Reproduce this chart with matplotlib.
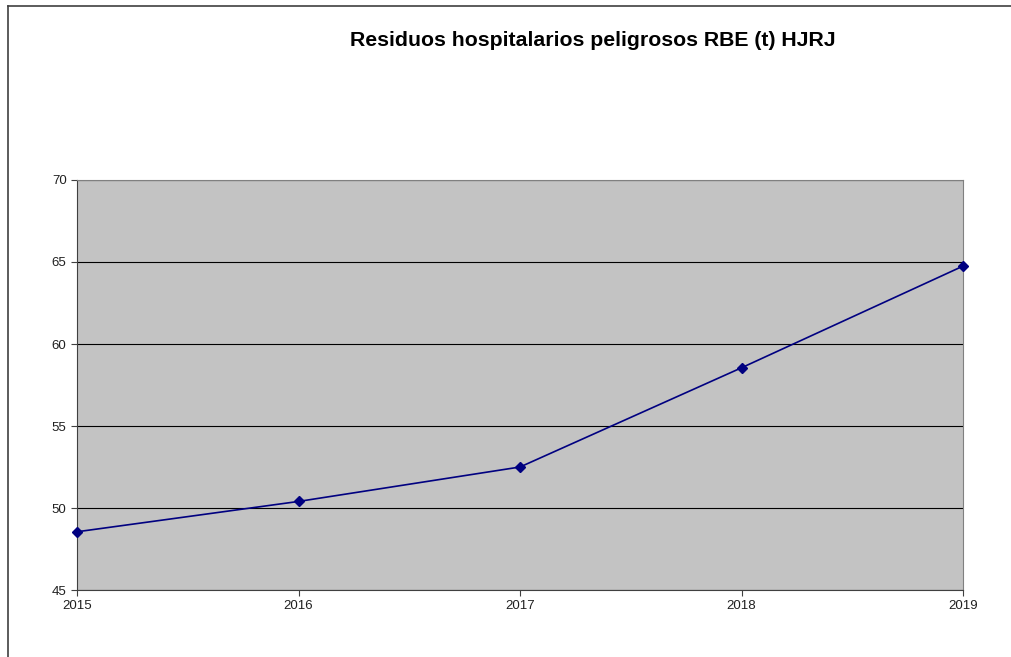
import matplotlib.pyplot as plt
from matplotlib.lines import Line2D

plt.rcParams["font.family"] = ["Liberation Sans", "DejaVu Sans"]

years = ["2015", "2016", "2017", "2018", "2019"]
residuos = [48.55, 50.4, 52.5, 58.55, 64.75]

fig = plt.figure(figsize=(10.11, 6.57), dpi=100)
ax = fig.add_axes([77 / 1011, 1 - 590 / 657, 886 / 1011, 410 / 657])

# outer chart frame
fig.add_artist(Line2D([8 / 1011, 8 / 1011], [0, 1 - 6 / 657], color="#404040", lw=1.2))
fig.add_artist(Line2D([8 / 1011, 1], [1 - 6 / 657, 1 - 6 / 657], color="#404040", lw=1.2))

ax.set_facecolor("#c3c3c3")
x = range(len(years))
ax.plot(x, residuos, color="#000080", lw=1.2, marker="D", markersize=5, clip_on=False, zorder=5)

ax.set_xlim(0, len(years) - 1)
ax.set_ylim(45, 70)
ax.set_xticks(list(x))
ax.set_xticklabels(years)
ax.set_yticks([45, 50, 55, 60, 65, 70])
ax.yaxis.grid(True, color="black", lw=0.8)
ax.set_axisbelow(True)

for side in ("top", "right"):
    ax.spines[side].set_color("#808080")
for side in ("left", "bottom"):
    ax.spines[side].set_color("#404040")
ax.tick_params(axis="both", labelsize=9.5, length=4, color="#404040", labelcolor="#202020")

fig.text(593 / 1011, 1 - 40 / 657, "Residuos hospitalarios peligrosos RBE (t) HJRJ",
         ha="center", va="center", fontsize=15.3, fontweight="bold")

fig.savefig("out.png", dpi=100)
